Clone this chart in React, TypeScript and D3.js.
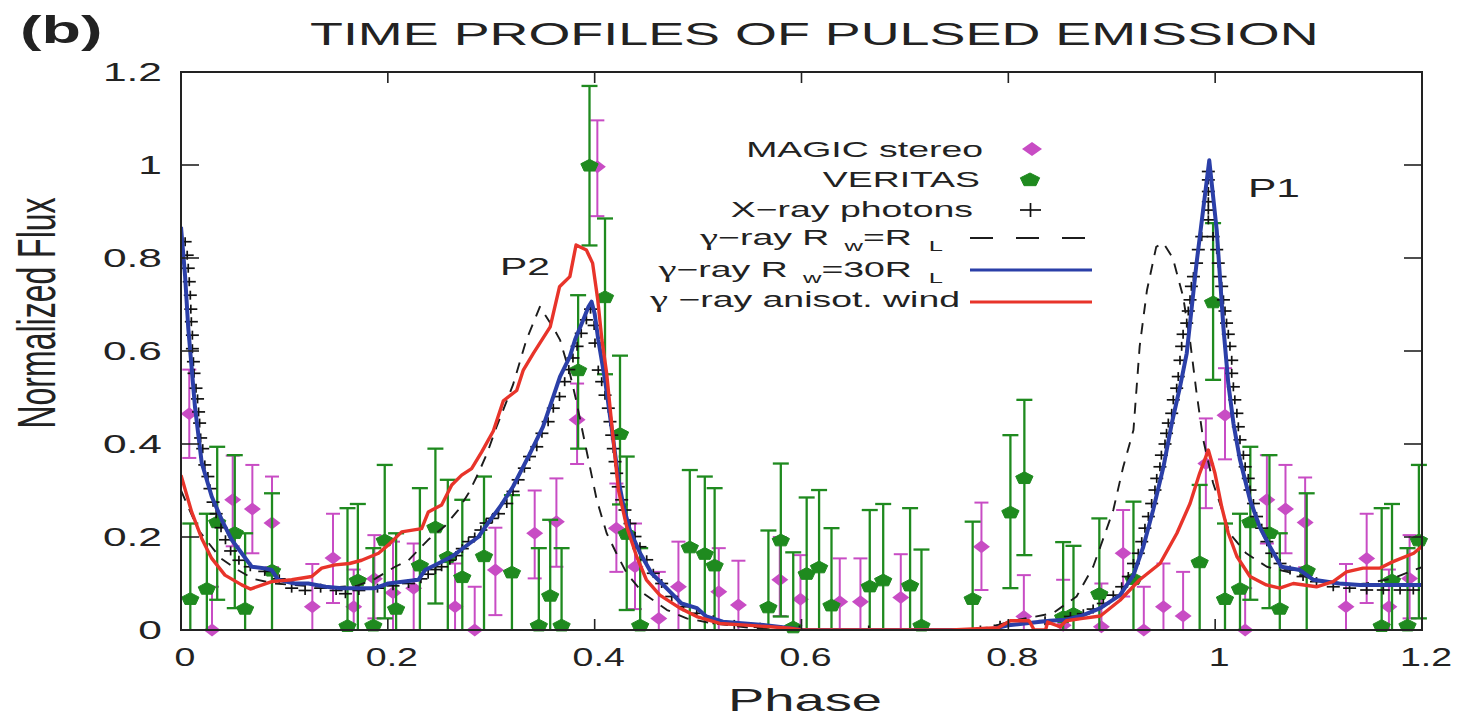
import React from 'react';
import * as d3 from 'd3';

// ---------- data ----------
const X_TICKS = [0, 0.2, 0.4, 0.6, 0.8, 1.0, 1.2];
const X_TICK_LABELS = ['0', '0.2', '0.4', '0.6', '0.8', '1', '1.2'];
const Y_TICKS = [0, 0.2, 0.4, 0.6, 0.8, 1.0, 1.2];
const Y_TICK_LABELS = ['0', '0.2', '0.4', '0.6', '0.8', '1', '1.2'];

// gamma-ray R_w = 30 R_L (blue)
const blueRw30: [number, number][] = [
  [0.0, 0.867], [0.004, 0.76], [0.007, 0.65], [0.0135, 0.48], [0.02, 0.36], [0.0297, 0.287],
  [0.0394, 0.237], [0.049, 0.194], [0.0587, 0.165], [0.0684, 0.136], [0.08, 0.133], [0.0877, 0.129],
  [0.094, 0.108], [0.11, 0.1], [0.123, 0.1], [0.14, 0.093], [0.1554, 0.09], [0.17, 0.09],
  [0.1876, 0.09], [0.2005, 0.1], [0.2295, 0.108], [0.236, 0.129], [0.2488, 0.143], [0.262, 0.158],
  [0.2746, 0.179], [0.2875, 0.2], [0.2985, 0.235], [0.3085, 0.265], [0.321, 0.308], [0.3375, 0.38],
  [0.35, 0.437], [0.36, 0.502], [0.3665, 0.545], [0.376, 0.588], [0.381, 0.624], [0.389, 0.667],
  [0.394, 0.695], [0.397, 0.706], [0.4, 0.68], [0.4035, 0.624], [0.41, 0.538], [0.418, 0.409],
  [0.423, 0.323], [0.428, 0.265], [0.434, 0.215], [0.444, 0.165], [0.455, 0.122], [0.465, 0.1],
  [0.473, 0.082], [0.484, 0.057], [0.499, 0.047], [0.508, 0.029], [0.524, 0.018], [0.563, 0.011],
  [0.59, 0.004], [0.6, 0.0], [0.745, 0.0], [0.78, 0.0], [0.8, 0.01], [0.82, 0.015], [0.84, 0.02],
  [0.856, 0.022], [0.87, 0.03], [0.889, 0.047], [0.908, 0.075], [0.921, 0.118], [0.9305, 0.179],
  [0.94, 0.258], [0.95, 0.351], [0.958, 0.444], [0.966, 0.523], [0.9725, 0.595], [0.982, 0.789],
  [0.9943, 1.01], [1.0015, 0.86], [1.008, 0.65], [1.0127, 0.53], [1.0177, 0.444], [1.024, 0.366],
  [1.0337, 0.28], [1.043, 0.222], [1.053, 0.179], [1.064, 0.136], [1.082, 0.129], [1.095, 0.108],
  [1.12, 0.1], [1.14, 0.097], [1.16, 0.097], [1.2, 0.097],
];

// gamma-ray anisotropic wind (red)
const redAniso: [number, number][] = [
  [0.0, 0.333], [0.0103, 0.254], [0.02, 0.197], [0.0297, 0.154], [0.0425, 0.118], [0.0587, 0.097],
  [0.067, 0.088], [0.0877, 0.104], [0.107, 0.108], [0.1264, 0.115], [0.136, 0.133], [0.149, 0.14],
  [0.163, 0.143], [0.1747, 0.15], [0.191, 0.165], [0.2005, 0.183], [0.2134, 0.211], [0.2327, 0.218],
  [0.2392, 0.254], [0.252, 0.269], [0.2618, 0.312], [0.2714, 0.333], [0.281, 0.347], [0.2908, 0.383],
  [0.302, 0.428], [0.3117, 0.493], [0.3246, 0.515], [0.331, 0.559], [0.3407, 0.595], [0.349, 0.624],
  [0.357, 0.652], [0.366, 0.738], [0.376, 0.76], [0.382, 0.828], [0.392, 0.817], [0.398, 0.789],
  [0.403, 0.71], [0.407, 0.624], [0.4116, 0.552], [0.418, 0.409], [0.423, 0.301], [0.431, 0.222],
  [0.4406, 0.158], [0.45, 0.108], [0.463, 0.075], [0.4825, 0.047], [0.4987, 0.029], [0.521, 0.014],
  [0.55, 0.01], [0.589, 0.004], [0.6, 0.0], [0.745, 0.0], [0.79, 0.005], [0.802, 0.02], [0.82, 0.02],
  [0.825, 0.0], [0.836, 0.0], [0.838, 0.017], [0.85, 0.007], [0.856, 0.02], [0.872, 0.025],
  [0.889, 0.03], [0.908, 0.064], [0.927, 0.108], [0.9467, 0.143], [0.963, 0.208], [0.9757, 0.272],
  [0.985, 0.337], [0.9934, 0.387], [0.9998, 0.337], [1.0063, 0.265], [1.0127, 0.208], [1.021, 0.158],
  [1.0337, 0.115], [1.0495, 0.097], [1.0624, 0.09], [1.0755, 0.1], [1.098, 0.093], [1.114, 0.104],
  [1.127, 0.125], [1.143, 0.133], [1.159, 0.133], [1.172, 0.147], [1.192, 0.165], [1.2, 0.18],
];

// gamma-ray R_w = R_L (black dashed)
const dashedRwRL: [number, number][] = [
  [0.0, 0.3], [0.0168, 0.215], [0.038, 0.155], [0.055, 0.129], [0.07, 0.11], [0.09, 0.1],
  [0.12, 0.095], [0.15, 0.092], [0.17, 0.095], [0.1876, 0.11], [0.207, 0.136], [0.22, 0.15],
  [0.239, 0.194], [0.255, 0.223], [0.268, 0.258], [0.278, 0.294], [0.2875, 0.337], [0.296, 0.38],
  [0.305, 0.436], [0.321, 0.527], [0.334, 0.624], [0.347, 0.695], [0.36, 0.65], [0.3665, 0.624],
  [0.376, 0.552], [0.382, 0.495], [0.392, 0.387], [0.402, 0.28], [0.4116, 0.208], [0.421, 0.165],
  [0.431, 0.122], [0.447, 0.079], [0.47, 0.043], [0.489, 0.025], [0.515, 0.014], [0.55, 0.005],
  [0.6, 0.0], [0.75, 0.0], [0.78, 0.005], [0.805, 0.02], [0.843, 0.036], [0.866, 0.072],
  [0.882, 0.136], [0.889, 0.179], [0.9015, 0.258], [0.911, 0.35], [0.921, 0.43], [0.927, 0.61],
  [0.934, 0.73], [0.943, 0.824], [0.95, 0.832], [0.959, 0.8], [0.969, 0.717], [0.976, 0.617],
  [0.982, 0.51], [0.9885, 0.409], [0.998, 0.316], [1.0143, 0.207], [1.03, 0.165], [1.05, 0.136],
  [1.0755, 0.122], [1.098, 0.108], [1.13, 0.097], [1.146, 0.1], [1.172, 0.111], [1.192, 0.129],
  [1.2, 0.135],
];

// X-ray photons (+)
const xrayPhotons: [number, number][] = [
  [0.004, 0.835], [0.006, 0.806], [0.007, 0.778], [0.008, 0.749], [0.009, 0.72], [0.0095, 0.69],
  [0.01, 0.663], [0.011, 0.634], [0.011, 0.605], [0.012, 0.577], [0.0126, 0.552], [0.0145, 0.52],
  [0.016, 0.497], [0.017, 0.469], [0.018, 0.445], [0.019, 0.413], [0.021, 0.39], [0.023, 0.355],
  [0.026, 0.33], [0.028, 0.304], [0.031, 0.275], [0.034, 0.25], [0.0387, 0.22], [0.043, 0.194],
  [0.048, 0.17], [0.056, 0.15], [0.067, 0.136], [0.081, 0.126], [0.095, 0.11], [0.107, 0.09],
  [0.12, 0.085], [0.135, 0.09], [0.15, 0.085], [0.159, 0.078], [0.172, 0.085], [0.19, 0.09],
  [0.205, 0.095], [0.22, 0.1], [0.232, 0.11], [0.239, 0.12], [0.246, 0.13], [0.252, 0.136],
  [0.26, 0.15], [0.266, 0.16], [0.272, 0.175], [0.278, 0.19], [0.284, 0.2], [0.29, 0.215],
  [0.295, 0.23], [0.301, 0.24], [0.307, 0.25], [0.315, 0.272], [0.321, 0.298], [0.326, 0.323],
  [0.332, 0.348], [0.337, 0.373], [0.344, 0.394], [0.349, 0.423], [0.355, 0.448], [0.36, 0.477],
  [0.366, 0.502], [0.371, 0.534], [0.375, 0.56], [0.379, 0.585], [0.383, 0.61], [0.387, 0.638],
  [0.392, 0.667], [0.396, 0.69], [0.3995, 0.655], [0.4003, 0.617], [0.4035, 0.559], [0.4068, 0.534],
  [0.41, 0.505], [0.4132, 0.477], [0.4148, 0.448], [0.4165, 0.419], [0.418, 0.39], [0.4197, 0.362],
  [0.4213, 0.337], [0.4228, 0.308], [0.4261, 0.28], [0.4293, 0.258], [0.4342, 0.229], [0.439, 0.201],
  [0.4438, 0.179], [0.4503, 0.151], [0.4567, 0.122], [0.4648, 0.1], [0.4745, 0.072], [0.4857, 0.05],
  [0.4987, 0.036], [0.5147, 0.022], [0.535, 0.012], [0.56, 0.006], [0.58, 0.0], [0.598, 0.0],
  [0.665, 0.0], [0.773, 0.0], [0.792, 0.01], [0.8355, 0.02], [0.86, 0.029], [0.8725, 0.035],
  [0.882, 0.045], [0.8918, 0.057], [0.9015, 0.075], [0.9096, 0.093], [0.916, 0.115], [0.921, 0.143],
  [0.9257, 0.165], [0.929, 0.19], [0.9321, 0.219], [0.9354, 0.244], [0.9386, 0.272], [0.9418, 0.301],
  [0.9435, 0.326], [0.9466, 0.351], [0.948, 0.376], [0.9515, 0.4], [0.953, 0.423], [0.9547, 0.445],
  [0.958, 0.466], [0.9595, 0.495], [0.9628, 0.52], [0.9643, 0.545], [0.966, 0.58], [0.9676, 0.61],
  [0.969, 0.636], [0.9725, 0.66], [0.974, 0.686], [0.9757, 0.71], [0.977, 0.739], [0.979, 0.76],
  [0.982, 0.789], [0.9837, 0.818], [0.987, 0.846], [0.9934, 0.882], [0.9934, 0.903], [0.9934, 0.921],
  [0.9934, 0.943], [0.9934, 0.968], [0.9934, 0.986], [0.998, 0.846], [1.0015, 0.818], [1.003, 0.789],
  [1.0047, 0.76], [1.0063, 0.739], [1.008, 0.71], [1.0095, 0.686], [1.011, 0.66], [1.0127, 0.636],
  [1.0143, 0.61], [1.016, 0.58], [1.016, 0.552], [1.0176, 0.523], [1.019, 0.495], [1.021, 0.466],
  [1.0224, 0.437], [1.024, 0.409], [1.0273, 0.376], [1.029, 0.351], [1.032, 0.326], [1.0337, 0.301],
  [1.037, 0.272], [1.04, 0.244], [1.045, 0.219], [1.05, 0.19], [1.0547, 0.165], [1.0627, 0.143],
  [1.0724, 0.129], [1.085, 0.115], [1.098, 0.104], [1.1142, 0.093], [1.13, 0.09], [1.1465, 0.086],
  [1.1626, 0.086], [1.1788, 0.086], [1.1916, 0.086],
];

// MAGIC stereo: [phase, value, low, high]
const magicStereo: [number, number, number, number][] = [
  [0.008, 0.465, 0.37, 0.56], [0.03, 0.0, 0, 0.093], [0.05, 0.28, 0.18, 0.375], [0.069, 0.26, 0.165, 0.355],
  [0.088, 0.23, 0.135, 0.33], [0.127, 0.05, 0, 0.142], [0.147, 0.155, 0.058, 0.25], [0.167, 0.05, 0, 0.13],
  [0.187, 0.11, 0.025, 0.204], [0.205, 0.08, 0, 0.19], [0.225, 0.09, 0, 0.186], [0.265, 0.05, 0, 0.143],
  [0.284, 0.0, 0, 0.093], [0.304, 0.129, 0.032, 0.22], [0.342, 0.208, 0.111, 0.3], [0.363, 0.233, 0.136, 0.326],
  [0.383, 0.452, 0.357, 0.53], [0.4026, 0.996, 0.89, 1.096], [0.421, 0.219, 0.125, 0.315], [0.439, 0.136, 0.045, 0.229],
  [0.462, 0.025, 0, 0.125], [0.481, 0.093, 0, 0.19], [0.52, 0.082, 0, 0.176], [0.539, 0.054, 0, 0.149],
  [0.579, 0.108, 0.03, 0.2], [0.599, 0.066, 0, 0.161], [0.637, 0.061, 0, 0.154], [0.657, 0.061, 0, 0.154],
  [0.696, 0.07, 0, 0.163], [0.774, 0.179, 0.086, 0.274], [0.815, 0.029, 0, 0.118], [0.853, 0.01, 0, 0.108],
  [0.89, 0.007, 0, 0.1], [0.911, 0.165, 0.072, 0.258], [0.931, 0.0, 0, 0.093], [0.95, 0.05, 0, 0.143],
  [0.969, 0.03, 0, 0.125], [0.991, 0.358, 0.262, 0.455], [1.0095, 0.462, 0.367, 0.563], [1.029, 0.0, 0, 0.09],
  [1.05, 0.28, 0.186, 0.376], [1.068, 0.26, 0.165, 0.355], [1.087, 0.231, 0.135, 0.328], [1.1265, 0.05, 0, 0.142],
  [1.1465, 0.154, 0.058, 0.25], [1.168, 0.05, 0, 0.13], [1.188, 0.111, 0.025, 0.204],
];

// VERITAS: [phase, value, low, high]
const veritasData: [number, number, number, number][] = [
  [0.009, 0.068, 0, 0.229], [0.025, 0.09, 0, 0.25], [0.035, 0.233, 0.065, 0.394], [0.052, 0.21, 0.047, 0.376],
  [0.062, 0.047, 0, 0.208], [0.088, 0.129, 0, 0.294], [0.161, 0.01, 0, 0.262], [0.171, 0.108, 0, 0.271],
  [0.186, 0.011, 0, 0.176], [0.197, 0.194, 0.025, 0.355], [0.208, 0.047, 0, 0.208], [0.231, 0.14, 0, 0.305],
  [0.246, 0.222, 0.057, 0.39], [0.258, 0.158, 0, 0.323], [0.272, 0.115, 0, 0.28], [0.293, 0.16, 0, 0.33],
  [0.32, 0.125, 0, 0.29], [0.346, 0.011, 0, 0.176], [0.357, 0.075, 0, 0.237], [0.368, 0.011, 0, 0.176],
  [0.384, 0.56, 0.39, 0.72], [0.395, 1.0, 0.827, 1.17], [0.41, 0.717, 0.55, 0.885], [0.4245, 0.423, 0.27, 0.59],
  [0.431, 0.208, 0.043, 0.373], [0.444, 0.011, 0, 0.176], [0.492, 0.179, 0, 0.344], [0.5065, 0.165, 0, 0.33],
  [0.516, 0.14, 0, 0.305], [0.568, 0.05, 0, 0.214], [0.58, 0.194, 0.029, 0.358], [0.592, 0.007, 0, 0.167],
  [0.605, 0.122, 0, 0.285], [0.617, 0.136, 0, 0.301], [0.629, 0.054, 0, 0.219], [0.666, 0.095, 0, 0.258],
  [0.679, 0.108, 0, 0.271], [0.705, 0.097, 0, 0.262], [0.716, 0.011, 0, 0.173], [0.7655, 0.068, 0, 0.233],
  [0.802, 0.254, 0.09, 0.419], [0.8155, 0.328, 0.161, 0.495], [0.853, 0.029, 0, 0.189], [0.863, 0.036, 0, 0.181],
  [0.888, 0.079, 0, 0.24], [0.921, 0.111, 0, 0.276], [0.985, 0.147, 0, 0.312], [0.998, 0.706, 0.538, 0.875],
  [1.0095, 0.068, 0, 0.229], [1.024, 0.09, 0, 0.25], [1.034, 0.233, 0.065, 0.394], [1.0525, 0.21, 0.047, 0.376],
  [1.0625, 0.047, 0, 0.208], [1.0885, 0.129, 0, 0.294], [1.161, 0.01, 0, 0.262], [1.171, 0.108, 0, 0.271],
  [1.186, 0.011, 0, 0.176], [1.197, 0.194, 0.025, 0.355],
];

// ---------- layout / style ----------
const W = 1473;
const H = 720;
const LEFT = 181, RIGHT = 1422, TOP = 72, BOTTOM = 630;
const SX = 1.7; // horizontal stretch of the original figure's text
const FONT = "'Liberation Sans', Arial, Helvetica, sans-serif";
const GREEK = "'Liberation Serif', 'DejaVu Serif', serif";
const C_MAGIC = '#c84cc4';
const C_VER = '#1f8a1f';
const C_BLUE = '#2b3fa8';
const C_RED = '#e8342a';
const C_DASH = '#1c1c1c';

const pentagon = (cx: number, cy: number, r: number, sx: number) => {
  const pts: string[] = [];
  for (let i = 0; i < 5; i++) {
    const a = (-90 + i * 72) * Math.PI / 180;
    pts.push(`${cx + Math.cos(a) * r * sx},${cy + Math.sin(a) * r}`);
  }
  return pts.join(' ');
};
const diamond = (cx: number, cy: number, hw: number, hh: number) =>
  `${cx - hw},${cy} ${cx},${cy - hh} ${cx + hw},${cy} ${cx},${cy + hh}`;

const SText = (p: { x: number; y: number; size: number; anchor?: string; weight?: string; sx?: number; children: any }) => (
  <text
    transform={`translate(${p.x},${p.y}) scale(${p.sx || SX},1)`}
    fontFamily={FONT}
    fontSize={p.size}
    fontWeight={p.weight || 'normal'}
    textAnchor={p.anchor || 'start'}
    fill="#222"
  >
    {p.children}
  </text>
);

const G = () => <tspan fontFamily={GREEK} fontSize={24}>γ</tspan>;

export default function App() {
  const x = d3.scaleLinear().domain([0, 1.2]).range([LEFT, RIGHT]);
  const y = d3.scaleLinear().domain([0, 1.2]).range([BOTTOM, TOP]);
  const line = d3.line<[number, number]>().x(d => x(d[0])).y(d => y(d[1]));

  return (
    <svg width={W} height={H} style={{ position: 'absolute', left: 0, top: 0, background: '#fff' }}>
      <defs>
        <clipPath id="plotClip">
          <rect x={LEFT} y={TOP} width={RIGHT - LEFT} height={BOTTOM - TOP} />
        </clipPath>
      </defs>
      <rect x={0} y={0} width={W} height={H} fill="#fff" />

      {/* titles */}
      <SText x={20} y={43} size={38} weight="bold">(b)</SText>
      <SText x={310} y={45} size={31.7}>TIME PROFILES OF PULSED EMISSION</SText>

      {/* MAGIC error bars + points */}
      <g stroke={C_MAGIC} strokeWidth={2} fill="none">
        {magicStereo.map((d, i) => (
          <g key={i}>
            <line x1={x(d[0])} x2={x(d[0])} y1={y(d[2])} y2={y(d[3])} />
            <line x1={x(d[0]) - 7} x2={x(d[0]) + 7} y1={y(d[3])} y2={y(d[3])} />
            {d[2] > 0 && <line x1={x(d[0]) - 7} x2={x(d[0]) + 7} y1={y(d[2])} y2={y(d[2])} />}
          </g>
        ))}
      </g>
      <g fill={C_MAGIC}>
        {magicStereo.map((d, i) => (
          <polygon key={i} points={diamond(x(d[0]), y(d[1]), 8.5, 6.5)} />
        ))}
      </g>

      {/* VERITAS error bars + points */}
      <g stroke={C_VER} strokeWidth={2.3} fill="none">
        {veritasData.map((d, i) => (
          <g key={i}>
            <line x1={x(d[0])} x2={x(d[0])} y1={y(d[2])} y2={y(d[3])} />
            <line x1={x(d[0]) - 8} x2={x(d[0]) + 8} y1={y(d[3])} y2={y(d[3])} />
            {d[2] > 0 && <line x1={x(d[0]) - 8} x2={x(d[0]) + 8} y1={y(d[2])} y2={y(d[2])} />}
          </g>
        ))}
      </g>
      <g fill={C_VER} stroke={C_VER} strokeWidth={1} strokeLinejoin="round">
        {veritasData.map((d, i) => (
          <polygon key={i} points={pentagon(x(d[0]), y(d[1]) + 0.8, 6.5, 1.4)} />
        ))}
      </g>

      {/* X-ray photons */}
      <g clipPath="url(#plotClip)" stroke="#111" strokeWidth={1.7}>
        {xrayPhotons.map((d, i) => (
          <g key={i}>
            <line x1={x(d[0]) - 6.5} x2={x(d[0]) + 6.5} y1={y(d[1])} y2={y(d[1])} />
            <line x1={x(d[0])} x2={x(d[0])} y1={y(d[1]) - 4.5} y2={y(d[1]) + 4.5} />
          </g>
        ))}
      </g>

      {/* model curves */}
      <g clipPath="url(#plotClip)" fill="none" strokeLinejoin="round">
        <path d={line(dashedRwRL) || ''} stroke={C_DASH} strokeWidth={1.9} strokeDasharray="11,9" />
        <path d={line(blueRw30) || ''} stroke={C_BLUE} strokeWidth={4} />
        <path d={line(redAniso) || ''} stroke={C_RED} strokeWidth={3.4} />
      </g>

      {/* frame */}
      <rect x={LEFT} y={TOP} width={RIGHT - LEFT} height={BOTTOM - TOP} fill="none" stroke="#222" strokeWidth={2} />

      {/* ticks */}
      <g stroke="#222" strokeWidth={1.6}>
        {X_TICKS.map((t, i) => (
          <g key={i}>
            <line x1={x(t)} x2={x(t)} y1={BOTTOM} y2={BOTTOM - 11} />
            <line x1={x(t)} x2={x(t)} y1={TOP} y2={TOP + 11} />
          </g>
        ))}
        {Y_TICKS.map((t, i) => (
          <g key={i}>
            <line x1={LEFT} x2={LEFT + 18} y1={y(t)} y2={y(t)} />
            <line x1={RIGHT} x2={RIGHT - 18} y1={y(t)} y2={y(t)} />
          </g>
        ))}
      </g>
      {X_TICKS.map((t, i) => (
        <SText key={i} x={x(t) + 4} y={666} size={25} sx={1.5} anchor="middle">{X_TICK_LABELS[i]}</SText>
      ))}
      {Y_TICKS.map((t, i) => (
        <SText key={i} x={162} y={y(t) + 9} size={25} anchor="end">{Y_TICK_LABELS[i]}</SText>
      ))}

      {/* axis labels */}
      <SText x={805} y={711} size={32} anchor="middle">Phase</SText>
      <text
        transform={`translate(55,313) scale(${SX},1) rotate(-90)`}
        fontFamily={FONT}
        fontSize={32}
        textAnchor="middle"
        fill="#222"
      >
        Normalized Flux
      </text>

      {/* peak labels */}
      <SText x={500} y={275} size={24}>P2</SText>
      <SText x={1248} y={197} size={25}>P1</SText>

      {/* legend */}
      <SText x={983} y={157} size={22} anchor="end">MAGIC stereo</SText>
      <polygon points={diamond(1032, 149, 10, 7)} fill={C_MAGIC} />
      <SText x={980} y={187} size={22} anchor="end">VERITAS</SText>
      <polygon points={pentagon(1030, 180, 7, 1.45)} fill={C_VER} stroke={C_VER} strokeWidth={1} strokeLinejoin="round" />
      <SText x={973} y={217} size={22} anchor="end">X−ray photons</SText>
      <g stroke="#111" strokeWidth={1.7}>
        <line x1={1020} x2={1041} y1={210} y2={210} />
        <line x1={1030.5} x2={1030.5} y1={203} y2={217} />
      </g>
      <SText x={943} y={245} size={22} anchor="end">
        <G />−ray R<tspan dx={9} dy={6} fontSize={15}>w</tspan><tspan dy={-6}>=R</tspan><tspan dx={10} dy={6} fontSize={15}>L</tspan>
      </SText>
      <line x1={970} x2={1092} y1={238} y2={238} stroke={C_DASH} strokeWidth={1.8} strokeDasharray="23,23" />
      <SText x={943} y={277} size={22} anchor="end">
        <G />−ray R<tspan dx={9} dy={6} fontSize={15}>w</tspan><tspan dy={-6}>=30R</tspan><tspan dx={10} dy={6} fontSize={15}>L</tspan>
      </SText>
      <line x1={970} x2={1092} y1={270} y2={270} stroke={C_BLUE} strokeWidth={3} />
      <SText x={960} y={307} size={22} anchor="end">
        <G /> −ray anisot. wind
      </SText>
      <line x1={970} x2={1092} y1={302} y2={302} stroke={C_RED} strokeWidth={3} />
    </svg>
  );
}
